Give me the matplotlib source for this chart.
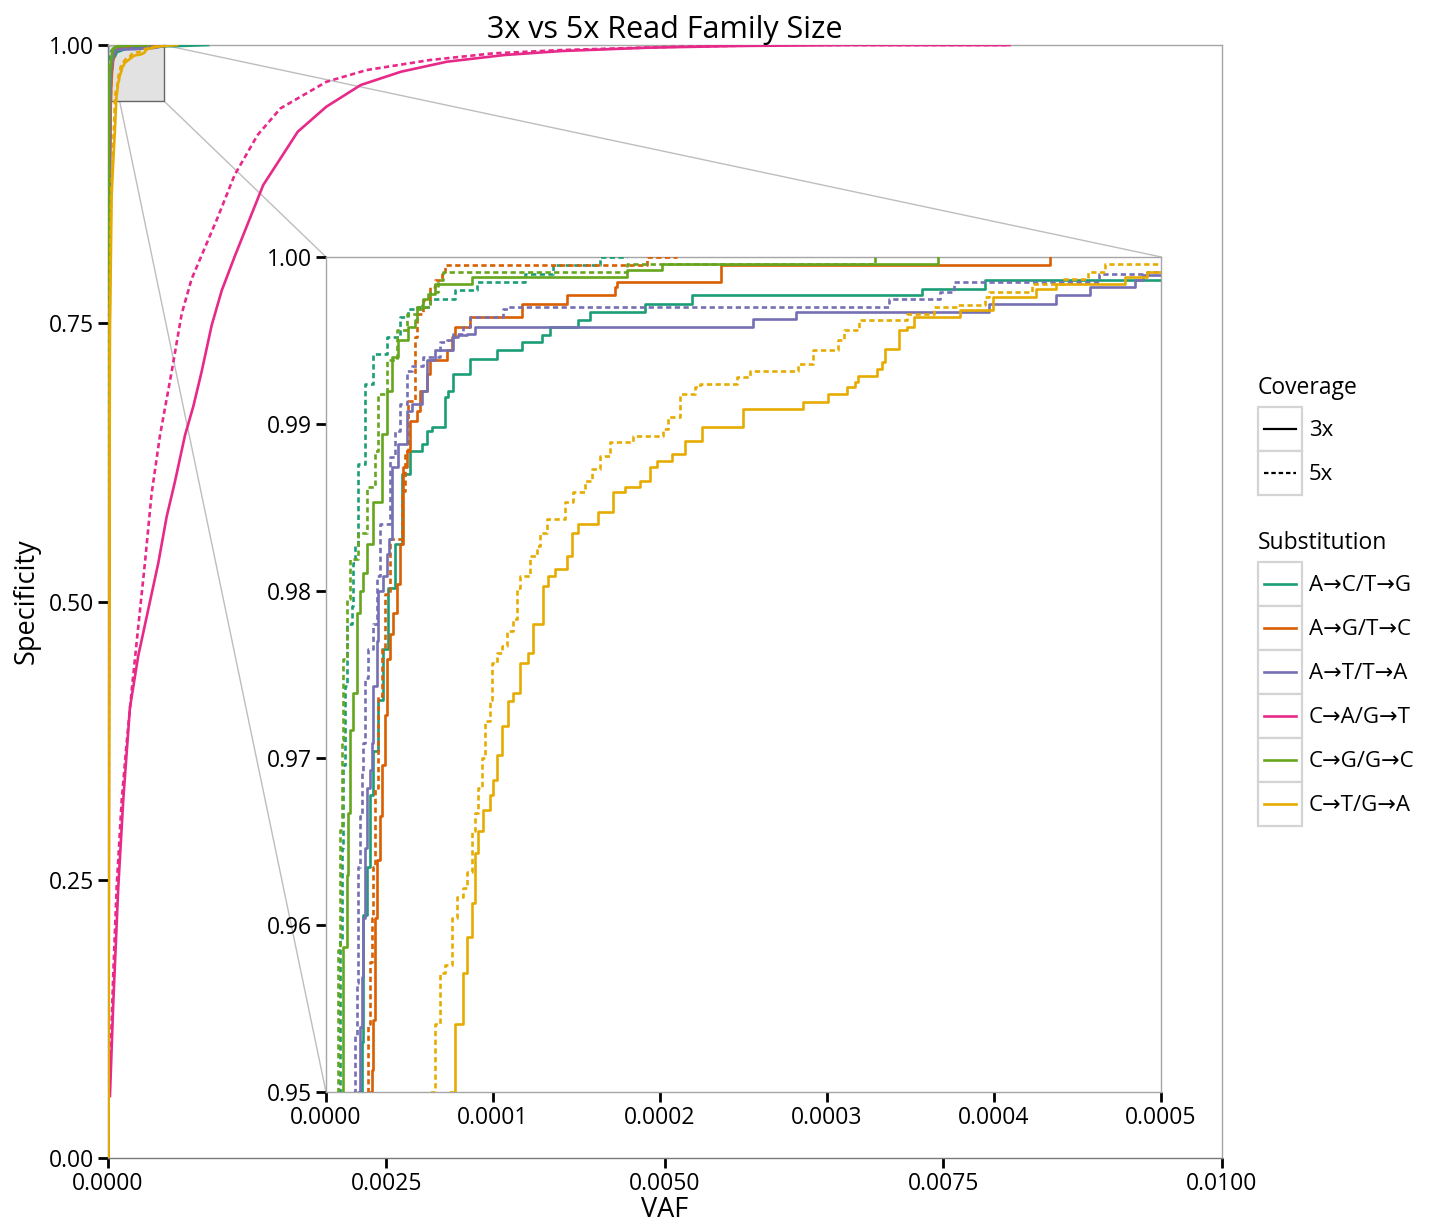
import numpy as np
import matplotlib
matplotlib.use("Agg")
import matplotlib.pyplot as plt
from matplotlib.lines import Line2D
from matplotlib.patches import Rectangle, ConnectionPatch
from matplotlib.legend_handler import HandlerBase

plt.rcParams['font.family'] = ['Open Sans', 'DejaVu Sans']

# VAF values below are given in units of 1e-5
VAF_UNIT = 1e-5

substitutions = ["A→C/T→G", "A→G/T→C", "A→T/T→A", "C→A/G→T", "C→G/G→C", "C→T/G→A"]
sub_colors = ["#1b9e77", "#d95f02", "#7570b3", "#e7298a", "#66a61e", "#e6ab02"]
coverages = ["3x", "5x"]

# A->C/T->G
ac_3x_vaf = [0.3, 0.8, 1.3, 1.7, 2.04, 2.14, 2.23, 2.44, 2.63, 2.83, 3.13, 3.43, 3.73, 4.13,
             4.53, 5.03, 5.73, 6.03, 6.33, 7.13, 7.32, 7.62, 8.62, 10.22, 11.72, 12.92, 13.41,
             15.07, 15.78, 19.08, 21.91, 35.70, 39.47, 70.0, 90.0]
ac_3x_spec = [0.0, 0.6, 0.85, 0.92, 0.9500, 0.9530, 0.9606, 0.9635, 0.9678, 0.9704, 0.9735, 0.9765,
              0.9802, 0.9828, 0.9870, 0.9884, 0.9888, 0.9896, 0.9898, 0.9916, 0.9920, 0.9930, 0.9939,
              0.9944, 0.9949, 0.9953, 0.9958, 0.9962, 0.9967, 0.9972, 0.9977, 0.9981, 0.9986, 0.9993, 1.0]
ac_5x_vaf = [0.1, 0.3, 0.5, 0.74, 0.84, 0.94, 1.04, 1.14, 1.24, 1.54, 1.63, 1.74, 1.93, 2.34, 2.83,
             3.63, 4.43, 4.93, 5.43, 6.23, 7.72, 9.02, 11.92, 13.6, 16.4, 18.0]
ac_5x_spec = [0.0, 0.6, 0.88, 0.95, 0.9591, 0.9646, 0.9696, 0.9743, 0.9780, 0.9791, 0.9817, 0.9827,
              0.9876, 0.9924, 0.9942, 0.9952, 0.9964, 0.9969, 0.9970, 0.9975, 0.9980, 0.9985, 0.9990,
              0.9995, 1.0, 1.0]

# A->G/T->C
ag_3x_vaf = [0.4, 1.2, 2.0, 2.4, 2.63, 2.74, 2.83, 2.93, 3.04, 3.23, 3.34, 3.53, 3.63, 3.83, 4.03,
             4.23, 4.43, 4.63, 4.83, 5.03, 5.43, 5.63, 6.03, 6.23, 7.23, 7.53, 7.72, 8.62, 11.72,
             14.41, 17.31, 17.43, 23.68, 43.35]
ag_3x_spec = [0.0, 0.6, 0.88, 0.93, 0.9500, 0.9513, 0.9543, 0.9604, 0.9639, 0.9665, 0.9696, 0.9726,
              0.9759, 0.9774, 0.9787, 0.9804, 0.9828, 0.9874, 0.9884, 0.9902, 0.9908, 0.9920, 0.9930,
              0.9938, 0.9944, 0.9952, 0.9958, 0.9964, 0.9972, 0.9977, 0.9982, 0.9985, 0.9995, 1.0]
ag_5x_vaf = [0.3, 1.0, 1.8, 2.2, 2.44, 2.53, 2.63, 2.74, 2.83, 2.93, 3.13, 3.34, 3.53, 3.83, 4.53,
             4.73, 4.93, 5.33, 5.43, 5.83, 6.23, 6.53, 6.93, 7.13, 19.20, 21.0]
ag_5x_spec = [0.0, 0.6, 0.88, 0.93, 0.95, 0.9541, 0.9578, 0.9604, 0.9635, 0.9682, 0.9737, 0.9765,
              0.9798, 0.9831, 0.9860, 0.9884, 0.9914, 0.9952, 0.9966, 0.9974, 0.9982, 0.9986, 0.9990,
              0.9995, 1.0, 1.0]

# A->T/T->A
at_3x_vaf = [0.3, 0.9, 1.5, 1.8, 1.93, 2.04, 2.14, 2.23, 2.34, 2.44, 2.63, 2.74, 2.83, 3.04, 3.13,
             3.43, 3.63, 3.77, 3.93, 4.33, 4.83, 5.13, 5.73, 6.03, 6.53, 7.62, 7.92, 8.43, 8.92,
             25.56, 28.16, 39.70, 43.71, 45.72, 48.44, 48.90, 52.0, 58.0]
at_3x_spec = [0.0, 0.6, 0.88, 0.93, 0.95, 0.9539, 0.9569, 0.9604, 0.9646, 0.9682, 0.9693, 0.9709,
              0.9743, 0.9770, 0.9800, 0.9809, 0.9822, 0.9831, 0.9874, 0.9888, 0.9908, 0.9912, 0.9920,
              0.9938, 0.9944, 0.9952, 0.9953, 0.9954, 0.9958, 0.9963, 0.9967, 0.9972, 0.9977, 0.9982,
              0.9986, 0.9989, 0.9994, 1.0]
at_5x_vaf = [0.2, 0.8, 1.3, 1.5, 1.63, 1.74, 1.84, 1.93, 2.04, 2.14, 2.23, 2.34, 2.53, 2.83, 3.04,
             3.23, 3.83, 4.13, 4.43, 4.83, 5.13, 5.83, 6.83, 7.23, 7.62, 8.22, 8.62, 10.62, 10.92,
             33.69, 36.77, 37.59, 46.31, 49.14, 54.0, 60.0]
at_5x_spec = [0.0, 0.6, 0.88, 0.93, 0.95, 0.9534, 0.9565, 0.9635, 0.9665, 0.9691, 0.9709, 0.9748,
              0.9765, 0.9780, 0.9809, 0.9840, 0.9880, 0.9896, 0.9912, 0.9932, 0.9935, 0.9940, 0.9949,
              0.9950, 0.9954, 0.9958, 0.9964, 0.9969, 0.9970, 0.9975, 0.9979, 0.9985, 0.9990, 0.9991,
              0.9995, 1.0]

# C->A/G->T
ca_3x_vaf = [1.80, 4.76, 9.25, 13.7, 19.7, 27.2, 36.2, 45.2, 52.7, 60.1, 69.1, 76.6, 84.1, 93.1,
             102.1, 114.0, 139.4, 170.4, 196.1, 227.0, 263.0, 304.3, 355.8, 407.4, 484.7, 562.0,
             665.2, 809.4]
ca_3x_spec = [0.0557, 0.1387, 0.2429, 0.3210, 0.4043, 0.4512, 0.4929, 0.5346, 0.5762, 0.6075,
              0.6491, 0.6752, 0.7065, 0.7481, 0.7793, 0.8106, 0.8742, 0.9221, 0.9446, 0.9641,
              0.9760, 0.9850, 0.9910, 0.9946, 0.9976, 0.9991, 1.0, 1.0]
ca_5x_vaf = [1.80, 4.76, 7.81, 12.3, 16.8, 21.3, 27.2, 33.2, 39.2, 46.7, 57.2, 66.2, 75.1, 98.2,
             113.7, 134.3, 154.9, 196.2, 232.2, 288.9, 345.6, 407.4, 510.5, 613.6, 809.4]
ca_5x_spec = [0.0764, 0.1648, 0.2429, 0.3210, 0.3730, 0.4199, 0.4773, 0.5346, 0.5970, 0.6491,
              0.7065, 0.7585, 0.7898, 0.8443, 0.8832, 0.9191, 0.9431, 0.9670, 0.9775, 0.9865,
              0.9925, 0.9955, 0.9985, 1.0, 1.0]

# C->G/G->C
cg_3x_vaf = [0.1, 0.4, 0.7, 0.94, 1.04, 1.24, 1.34, 1.44, 1.63, 1.84, 2.04, 2.23, 2.44, 2.83, 3.34,
             3.63, 3.93, 4.33, 4.93, 5.33, 5.43, 5.73, 5.83, 6.13, 6.53, 8.72, 18.02, 20.12, 36.65]
cg_3x_spec = [0.0, 0.6, 0.9, 0.95, 0.9587, 0.9630, 0.9667, 0.9717, 0.9739, 0.9787, 0.9800, 0.9811,
              0.9828, 0.9853, 0.9894, 0.9920, 0.9940, 0.9950, 0.9958, 0.9962, 0.9969, 0.9971, 0.9975,
              0.9978, 0.9984, 0.9988, 0.9992, 0.9996, 1.0]
cg_5x_vaf = [0.1, 0.3, 0.5, 0.64, 0.74, 0.84, 0.94, 1.04, 1.24, 1.44, 1.93, 2.44, 2.93, 3.13, 3.63,
             4.23, 4.83, 5.43, 6.23, 6.72, 7.02, 18.02, 32.87]
cg_5x_spec = [0.0, 0.6, 0.9, 0.95, 0.9585, 0.9657, 0.9711, 0.9759, 0.9795, 0.9819, 0.9835, 0.9862,
              0.9884, 0.9918, 0.9938, 0.9956, 0.9966, 0.9970, 0.9979, 0.9986, 0.9991, 0.9996, 1.0]

# C->T/G->A
ct_3x_vaf = [0.5, 1.2, 1.8, 2.5, 3.3, 4.5, 6.3, 7.43, 7.72, 8.22, 8.42, 8.72, 8.92, 9.12, 9.42,
             9.82, 10.02, 10.22, 10.52, 10.92, 11.22, 11.62, 12.11, 12.41, 13.01, 13.31, 13.71,
             14.41, 14.71, 15.11, 16.31, 17.20, 17.90, 18.80, 19.40, 19.80, 20.70, 21.50, 22.50,
             24.99, 28.58, 30.08, 31.18, 31.68, 31.87, 32.98, 33.28, 33.47, 34.29, 34.76, 35.23,
             37.94, 39.95, 42.54, 43.71, 47.84, 49.14, 56.0, 62.0]
ct_3x_spec = [0.0, 0.5, 0.75, 0.80, 0.864, 0.89, 0.924, 0.9500, 0.9541, 0.9571, 0.9593, 0.9613,
              0.9643, 0.9656, 0.9669, 0.9678, 0.9687, 0.9702, 0.9719, 0.9734, 0.9739, 0.9757,
              0.9763, 0.9780, 0.9803, 0.9809, 0.9813, 0.9821, 0.9835, 0.9840, 0.9847, 0.9859,
              0.9862, 0.9866, 0.9874, 0.9878, 0.9882, 0.9890, 0.9898, 0.9909, 0.9913, 0.9918,
              0.9922, 0.9925, 0.9929, 0.9933, 0.9937, 0.9945, 0.9956, 0.9958, 0.9964, 0.9968,
              0.9976, 0.9981, 0.9984, 0.9988, 0.9991, 0.9996, 1.0]
ct_5x_vaf = [0.4, 1.0, 1.5, 2.2, 3.0, 4.2, 5.5, 6.23, 6.53, 6.83, 7.13, 7.53, 7.83, 8.22, 8.43,
             8.72, 8.92, 9.12, 9.32, 9.52, 9.82, 9.92, 10.22, 10.52, 10.82, 11.22, 11.42, 11.62,
             12.22, 12.62, 12.81, 13.22, 14.31, 14.81, 15.51, 15.91, 16.42, 17.01, 18.40, 20.20,
             20.50, 21.20, 22.10, 22.40, 24.59, 25.39, 28.28, 29.18, 30.68, 30.99, 31.93, 34.76,
             36.41, 37.82, 39.47, 39.70, 42.30, 44.19, 45.60, 46.66, 52.0, 58.0]
ct_5x_spec = [0.0, 0.5, 0.75, 0.82, 0.87, 0.90, 0.93, 0.9500, 0.9541, 0.9571, 0.9576, 0.9604,
              0.9617, 0.9622, 0.9632, 0.9656, 0.9667, 0.9682, 0.9700, 0.9722, 0.9735, 0.9757,
              0.9763, 0.9767, 0.9776, 0.9783, 0.9802, 0.9809, 0.9821, 0.9827, 0.9835, 0.9843,
              0.9853, 0.9859, 0.9866, 0.9873, 0.9881, 0.9889, 0.9893, 0.9897, 0.9904, 0.9918,
              0.9922, 0.9924, 0.9928, 0.9932, 0.9936, 0.9944, 0.9950, 0.9956, 0.9962, 0.9966,
              0.9970, 0.9971, 0.9976, 0.9979, 0.9984, 0.9987, 0.9991, 0.9996, 0.9998, 1.0]

curves = {
    ("A→C/T→G", "3x"): (ac_3x_vaf, ac_3x_spec), ("A→C/T→G", "5x"): (ac_5x_vaf, ac_5x_spec),
    ("A→G/T→C", "3x"): (ag_3x_vaf, ag_3x_spec), ("A→G/T→C", "5x"): (ag_5x_vaf, ag_5x_spec),
    ("A→T/T→A", "3x"): (at_3x_vaf, at_3x_spec), ("A→T/T→A", "5x"): (at_5x_vaf, at_5x_spec),
    ("C→A/G→T", "3x"): (ca_3x_vaf, ca_3x_spec), ("C→A/G→T", "5x"): (ca_5x_vaf, ca_5x_spec),
    ("C→G/G→C", "3x"): (cg_3x_vaf, cg_3x_spec), ("C→G/G→C", "5x"): (cg_5x_vaf, cg_5x_spec),
    ("C→T/G→A", "3x"): (ct_3x_vaf, ct_3x_spec), ("C→T/G→A", "5x"): (ct_5x_vaf, ct_5x_spec),
}

LW = 1.9
styles = {"3x": "-", "5x": (0, (2.0, 1.3))}
SPINE = "#a6a6a6"
TICK_FS = 16.5

fig = plt.figure(figsize=(14.45, 12.30), dpi=100)
ax = fig.add_axes([0.0747, 0.0585, 0.7709, 0.9049])
axin = fig.add_axes([0.2256, 0.1122, 0.5779, 0.6789])

for (sub, cov), (vaf, spec) in curves.items():
    col = sub_colors[substitutions.index(sub)]
    x = np.array(vaf) * VAF_UNIT
    ax.plot(x, spec, color=col, ls=styles[cov], lw=LW, zorder=3)
    if sub != "C→A/G→T":
        axin.plot(x, spec, color=col, ls=styles[cov], lw=LW, drawstyle="steps-post", zorder=3)

# main axes styling
ax.set_xlim(0, 0.01)
ax.set_ylim(0, 1.0)
ax.set_xticks([0, 0.0025, 0.005, 0.0075, 0.01])
ax.set_xticklabels(["0.0000", "0.0025", "0.0050", "0.0075", "0.0100"])
ax.set_yticks([0, 0.25, 0.5, 0.75, 1.0])
ax.set_yticklabels(["0.00", "0.25", "0.50", "0.75", "1.00"])
ax.tick_params(direction="out", length=7, width=2, color="black", labelsize=TICK_FS, pad=3)
for s in ax.spines.values():
    s.set_color(SPINE)
    s.set_linewidth(1.0)
ax.spines["left"].set_color("#7a7a7a")
ax.spines["bottom"].set_color("#7a7a7a")
ax.set_xlabel("VAF", fontsize=19.5, labelpad=0)
ax.set_ylabel("Specificity", fontsize=19.5, labelpad=6)
ax.set_title("3x vs 5x Read Family Size", fontsize=22, pad=2)

# zoom region marker
ax.add_patch(Rectangle((0, 0.95), 0.0005, 0.05, facecolor="#e2e2e2", edgecolor="#666666",
                       lw=1.0, zorder=1))

# inset styling
axin.set_xlim(0, 0.0005)
axin.set_ylim(0.95, 1.0)
axin.set_xticks([0, 0.0001, 0.0002, 0.0003, 0.0004, 0.0005])
axin.set_xticklabels(["0.0000", "0.0001", "0.0002", "0.0003", "0.0004", "0.0005"])
axin.set_yticks([0.95, 0.96, 0.97, 0.98, 0.99, 1.0])
axin.set_yticklabels(["0.95", "0.96", "0.97", "0.98", "0.99", "1.00"])
axin.tick_params(direction="out", length=7, width=2, color="black", labelsize=TICK_FS, pad=3)
for s in axin.spines.values():
    s.set_color(SPINE)
    s.set_linewidth(1.0)

# connector lines between zoom box and inset
for pa, pb in [((0, 1.0), (0, 0)), ((0.0005, 0.95), (0, 1)), ((0.0005, 1.0), (1, 1))]:
    con = ConnectionPatch(xyA=pa, coordsA=ax.transData, xyB=pb, coordsB=axin.transAxes,
                          color="#bdbdbd", lw=1.0, zorder=0.5)
    ax.add_artist(con)


class BoxedLine(HandlerBase):
    def create_artists(self, legend, orig_handle, xdescent, ydescent, width, height, fontsize, trans):
        box = Rectangle((-xdescent, -ydescent), width, height, facecolor="white",
                        edgecolor="#d4d4d4", lw=1.6, transform=trans)
        y = -ydescent + height / 2
        line = Line2D([], [])
        line.update_from(orig_handle)
        line.set_data([-xdescent + 0.14 * width, -xdescent + 0.86 * width], [y, y])
        line.set_transform(trans)
        return [box, line]


cov_handles = [Line2D([], [], color="black", lw=1.6, ls=styles[c]) for c in coverages]
sub_handles = [Line2D([], [], color=c, lw=1.9) for c in sub_colors]

LEG_FS = 16
leg_kw = dict(loc="upper left", frameon=False, handlelength=1.98, handleheight=2.67,
              labelspacing=0.0, handletextpad=0.3, borderpad=0, borderaxespad=0,
              fontsize=LEG_FS, handler_map={Line2D: BoxedLine()})
fig.legend(cov_handles, coverages, bbox_to_anchor=(0.8706, 1 - 407 / 1230), **leg_kw)
fig.legend(sub_handles, substitutions, bbox_to_anchor=(0.8706, 1 - 562 / 1230), **leg_kw)
fig.text(0.8706, 1 - 388 / 1230, "Coverage", fontsize=16.5, va="center", ha="left")
fig.text(0.8706, 1 - 543 / 1230, "Substitution", fontsize=16.5, va="center", ha="left")

fig.savefig("out.png", dpi=100)
